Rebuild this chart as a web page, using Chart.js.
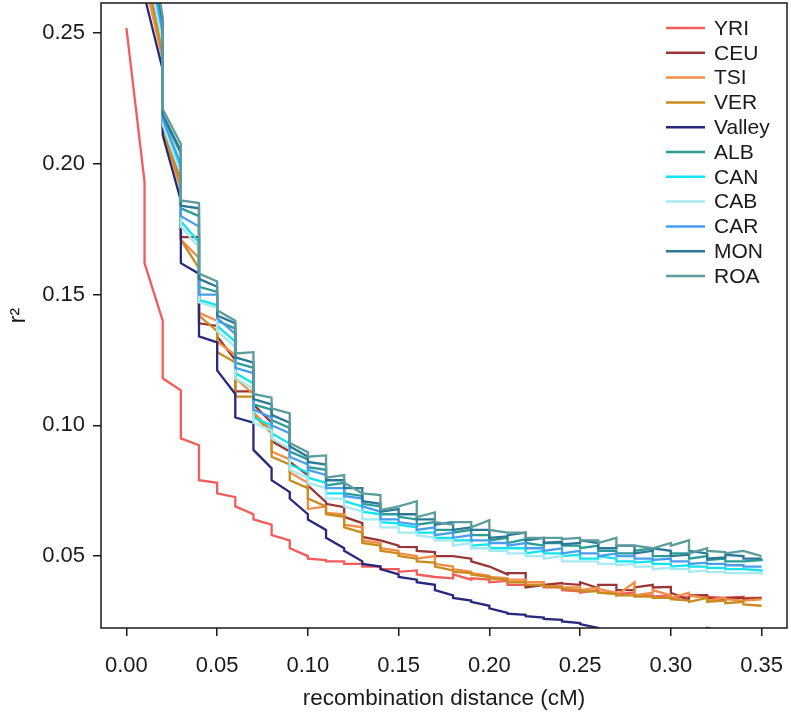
<!DOCTYPE html>
<html>
<head>
<meta charset="utf-8">
<script src="https://cdn.jsdelivr.net/npm/chart.js@4.4.1/dist/chart.umd.min.js"></script>
<style>
  html, body { margin: 0; padding: 0; background: #ffffff; }
  #wrap { width: 791px; height: 716px; }
</style>
</head>
<body>
<div id="wrap"><canvas id="c" width="791" height="716"></canvas></div>
<script>
// recombination distance (cM) — each bin position appears twice (arrive / leave)
const xs = [0,
  0.01,0.01, 0.02,0.02, 0.03,0.03, 0.04,0.04, 0.05,0.05, 0.06,0.06, 0.07,0.07,
  0.08,0.08, 0.09,0.09, 0.10,0.10, 0.11,0.11, 0.12,0.12, 0.13,0.13, 0.14,0.14,
  0.15,0.15, 0.16,0.16, 0.17,0.17, 0.18,0.18, 0.19,0.19, 0.20,0.20, 0.21,0.21,
  0.22,0.22, 0.23,0.23, 0.24,0.24, 0.25,0.25, 0.26,0.26, 0.27,0.27, 0.28,0.28,
  0.29,0.29, 0.30,0.30, 0.31,0.31, 0.32,0.32, 0.33,0.33, 0.34,0.34, 0.35,0.35];

const seriesNames = ["YRI","CEU","TSI","VER","Valley","ALB","CAN","CAB","CAR","MON","ROA"];
const seriesColors = ["#F45B5B","#9A3535","#F48D45","#C88C1E","#27287E","#2A9C97","#12E4EE","#A6E9F1","#479EEE","#2C7895","#5C9C9C"];

const YRI = [0.252, 0.193,0.162, 0.140,0.118, 0.1134,0.095, 0.0924,0.079, 0.078,0.074, 0.0725,0.069, 0.066,0.064, 0.062,0.058, 0.056,0.053, 0.050,0.049, 0.0485,0.048, 0.048,0.047, 0.047,0.046, 0.046,0.045, 0.045,0.044, 0.0445,0.043, 0.042,0.042, 0.0415,0.043, 0.041,0.0415, 0.041,0.040, 0.0405,0.039, 0.039,0.0385, 0.039,0.038, 0.038,0.037, 0.0365,0.036, 0.037,0.036, 0.036,0.0355, 0.036,0.035, 0.035,0.0345, 0.035,0.034, 0.0345,0.035, 0.034,0.0345, 0.034,0.034, 0.0345,0.034, 0.034,0.034];
const CEU = [0.40, 0.31,0.28, 0.245,0.215, 0.195,0.172, 0.172,0.139, 0.138,0.134, 0.125,0.113, 0.113,0.108, 0.101,0.094, 0.090,0.086, 0.081,0.077, 0.0706,0.070, 0.0687,0.065, 0.0626,0.0573, 0.056,0.056, 0.054,0.0535, 0.0534,0.052, 0.0515,0.050, 0.050,0.050, 0.049,0.048, 0.046,0.046, 0.043,0.0435, 0.0435,0.038, 0.039,0.039, 0.0397,0.0395, 0.039,0.040, 0.0378,0.039, 0.039,0.037, 0.037,0.038, 0.039,0.038, 0.0382,0.036, 0.0332,0.035, 0.0351,0.034, 0.0332,0.034, 0.034,0.0335, 0.034,0.034];
const TSI = [0.38, 0.30,0.27, 0.24,0.213, 0.19,0.171, 0.164,0.143, 0.140,0.132, 0.127,0.118, 0.112,0.105, 0.098,0.090, 0.087,0.082, 0.078,0.068, 0.069,0.0665, 0.066,0.062, 0.061,0.056, 0.055,0.053, 0.052,0.051, 0.050,0.049, 0.050,0.047, 0.046,0.045, 0.044,0.0435, 0.0425,0.042, 0.0415,0.041, 0.041,0.040, 0.040,0.0385, 0.0385,0.038, 0.038,0.037, 0.038,0.0375, 0.036,0.035, 0.040,0.035, 0.036,0.037, 0.035,0.034, 0.036,0.035, 0.034,0.033, 0.034,0.0335, 0.033,0.033, 0.0335,0.0335];
const VER = [0.39, 0.30,0.275, 0.242,0.214, 0.192,0.171, 0.160,0.142, 0.136,0.128, 0.124,0.111, 0.111,0.104, 0.097,0.088, 0.085,0.079, 0.076,0.072, 0.069,0.066, 0.065,0.061, 0.059,0.055, 0.054,0.052, 0.051,0.050, 0.049,0.048, 0.0475,0.046, 0.0445,0.044, 0.0435,0.043, 0.042,0.0415, 0.041,0.040, 0.040,0.039, 0.039,0.0385, 0.038,0.0375, 0.037,0.0365, 0.0365,0.036, 0.0355,0.035, 0.035,0.0345, 0.0345,0.034, 0.034,0.0335, 0.033,0.0325, 0.034,0.0325, 0.033,0.032, 0.0325,0.0315, 0.031,0.031];
const Valley = [0.40, 0.30,0.264, 0.236,0.211, 0.186,0.162, 0.158,0.134, 0.1317,0.121, 0.112,0.103, 0.101,0.0906, 0.0836,0.079, 0.0745,0.072, 0.066,0.064, 0.060,0.057, 0.053,0.052, 0.048,0.047, 0.046,0.045, 0.043,0.042, 0.041,0.040, 0.039,0.037, 0.035,0.034, 0.033,0.0325, 0.031,0.030, 0.0283,0.028, 0.0275,0.027, 0.0265,0.026, 0.0256,0.025, 0.0244,0.024, 0.0225,0.022, 0.0215,0.0218, 0.0212,0.0215, 0.021,0.0213, 0.0222,0.0215, 0.021,0.021, 0.0212,0.0225, 0.021,0.0208, 0.0205,0.021, 0.0205,0.0205];
const ALB = [0.40, 0.33,0.29, 0.252,0.218, 0.204,0.183, 0.180,0.153, 0.151,0.140, 0.137,0.124, 0.122,0.108, 0.106,0.102, 0.099,0.090, 0.087,0.084, 0.083,0.077, 0.078,0.074, 0.073,0.070, 0.069,0.066, 0.066,0.065, 0.064,0.062, 0.063,0.060, 0.060,0.059, 0.060,0.058, 0.058,0.056, 0.057,0.055, 0.0565,0.055, 0.054,0.055, 0.055,0.054, 0.054,0.053, 0.054,0.052, 0.052,0.051, 0.051,0.052, 0.053,0.050, 0.050,0.051, 0.051,0.049, 0.050,0.0485, 0.049,0.048, 0.048,0.048, 0.0485,0.048];
const CAN = [0.39, 0.32,0.285, 0.248,0.216, 0.198,0.178, 0.170,0.148, 0.146,0.138, 0.132,0.120, 0.116,0.103, 0.100,0.097, 0.093,0.085, 0.082,0.080, 0.078,0.074, 0.074,0.071, 0.069,0.067, 0.066,0.063, 0.0625,0.062, 0.061,0.059, 0.059,0.057, 0.057,0.056, 0.056,0.054, 0.0545,0.053, 0.053,0.053, 0.053,0.051, 0.052,0.051, 0.051,0.050, 0.0505,0.049, 0.049,0.050, 0.049,0.048, 0.048,0.0475, 0.048,0.047, 0.047,0.046, 0.0465,0.046, 0.046,0.0455, 0.0455,0.045, 0.045,0.045, 0.0445,0.045];
const CAB = [0.39, 0.31,0.28, 0.246,0.215, 0.196,0.176, 0.168,0.147, 0.145,0.136, 0.130,0.118, 0.114,0.101, 0.098,0.095, 0.091,0.083, 0.080,0.078, 0.076,0.072, 0.072,0.069, 0.067,0.064, 0.064,0.061, 0.061,0.059, 0.059,0.058, 0.057,0.056, 0.056,0.054, 0.055,0.053, 0.053,0.052, 0.052,0.051, 0.051,0.050, 0.050,0.049, 0.050,0.048, 0.048,0.048, 0.048,0.047, 0.047,0.0465, 0.047,0.046, 0.046,0.045, 0.0455,0.045, 0.045,0.044, 0.0445,0.044, 0.044,0.0435, 0.0435,0.0435, 0.0435,0.043];
const CAR = [0.40, 0.32,0.29, 0.250,0.217, 0.200,0.180, 0.176,0.150, 0.150,0.141, 0.135,0.122, 0.120,0.106, 0.103,0.100, 0.097,0.088, 0.085,0.083, 0.081,0.076, 0.076,0.073, 0.072,0.069, 0.067,0.064, 0.064,0.063, 0.062,0.060, 0.061,0.058, 0.059,0.057, 0.058,0.056, 0.056,0.055, 0.055,0.054, 0.055,0.053, 0.053,0.052, 0.053,0.051, 0.052,0.051, 0.051,0.050, 0.051,0.050, 0.050,0.049, 0.049,0.0485, 0.049,0.048, 0.048,0.047, 0.0475,0.047, 0.047,0.0465, 0.0465,0.046, 0.046,0.046];
const MON = [0.41, 0.33,0.295, 0.254,0.219, 0.205,0.184, 0.183,0.156, 0.153,0.142, 0.139,0.126, 0.124,0.110, 0.108,0.104, 0.101,0.092, 0.088,0.086, 0.085,0.079, 0.079,0.076, 0.076,0.071, 0.070,0.067, 0.068,0.066, 0.066,0.064, 0.064,0.062, 0.063,0.060, 0.061,0.060, 0.060,0.057, 0.0575,0.058, 0.059,0.056, 0.057,0.055, 0.0555,0.0545, 0.055,0.056, 0.055,0.053, 0.053,0.054, 0.054,0.051, 0.052,0.053, 0.052,0.050, 0.0505,0.052, 0.051,0.049, 0.0495,0.0505, 0.050,0.049, 0.049,0.049];
const ROA = [0.42, 0.34,0.30, 0.256,0.221, 0.2076,0.186, 0.185,0.158, 0.155,0.144, 0.140,0.1275, 0.128,0.112, 0.1106,0.1065, 0.1046,0.0932, 0.0897,0.088, 0.0885,0.080, 0.081,0.078, 0.074,0.074, 0.0733,0.0676, 0.069,0.069, 0.071,0.0649, 0.0667,0.063, 0.062,0.063, 0.063,0.061, 0.0637,0.060, 0.059,0.059, 0.059,0.057, 0.057,0.057, 0.057,0.0565, 0.057,0.056, 0.056,0.055, 0.057,0.054, 0.054,0.054, 0.053,0.053, 0.055,0.054, 0.056,0.051, 0.053,0.052, 0.0515,0.051, 0.052,0.052, 0.050,0.050];

const xTicks = [0.00, 0.05, 0.10, 0.15, 0.20, 0.25, 0.30, 0.35];
const yTicks = [0.05, 0.10, 0.15, 0.20, 0.25];
const xRange = [-0.014, 0.364];
const yRange = [0.0225, 0.2615];

const seriesValues = [YRI, CEU, TSI, VER, Valley, ALB, CAN, CAB, CAR, MON, ROA];

const FONT = "'Liberation Sans', Arial, Helvetica, sans-serif";
const INK = '#1a1a1a';

const datasets = seriesNames.map((name, i) => ({
  label: name,
  data: xs.map((x, k) => ({ x: x, y: seriesValues[i][k] })),
  borderColor: seriesColors[i],
  backgroundColor: seriesColors[i],
  borderWidth: 2.3,
  pointRadius: 0,
  pointHoverRadius: 0,
  tension: 0,
  fill: false,
  order: seriesNames.length - i
}));

const framePlugin = {
  id: 'frameAndLegend',
  afterDraw(chart) {
    const { ctx, chartArea: a } = chart;
    ctx.save();
    ctx.strokeStyle = INK;
    ctx.lineWidth = 1.5;
    ctx.strokeRect(a.left, a.top, a.right - a.left, a.bottom - a.top);
    // legend (R style, no box) in the top-right of the plot region
    ctx.font = '21px ' + FONT;
    ctx.textBaseline = 'middle';
    ctx.textAlign = 'left';
    const x0 = a.right - 121, x1 = a.right - 82, tx = a.right - 73;
    const y0 = a.top + 25, step = 24.8;
    seriesNames.forEach((name, i) => {
      const y = y0 + i * step;
      ctx.strokeStyle = seriesColors[i];
      ctx.lineWidth = 2.5;
      ctx.beginPath();
      ctx.moveTo(x0, y);
      ctx.lineTo(x1, y);
      ctx.stroke();
      ctx.fillStyle = INK;
      ctx.fillText(name, tx, y + 1);
    });
    ctx.restore();
  }
};

new Chart(document.getElementById('c'), {
  type: 'line',
  data: { datasets },
  plugins: [framePlugin],
  options: {
    responsive: false,
    animation: false,
    events: [],
    layout: { padding: { top: 3, right: 4, left: 0, bottom: 0 } },
    plugins: { legend: { display: false }, tooltip: { enabled: false } },
    scales: {
      x: {
        type: 'linear',
        min: xRange[0], max: xRange[1],
        afterBuildTicks: (s) => { s.ticks = xTicks.map(v => ({ value: v })); },
        afterFit: (s) => { s.height = 88; s.paddingLeft = 0; s.paddingRight = 0; },
        border: { display: false },
        grid: { drawOnChartArea: false, drawTicks: true, tickLength: 8, color: INK, lineWidth: 1.5 },
        ticks: {
          autoSkip: false, maxRotation: 0, padding: 17, color: INK,
          font: { family: FONT, size: 22 },
          callback: (v) => Number(v).toFixed(2)
        },
        title: {
          display: true, text: 'recombination distance (cM)', color: INK,
          font: { family: FONT, size: 22.5 }, padding: { top: 4, bottom: 4 }
        }
      },
      y: {
        type: 'linear',
        min: yRange[0], max: yRange[1],
        afterBuildTicks: (s) => { s.ticks = yTicks.map(v => ({ value: v })); },
        afterFit: (s) => { s.width = 101; s.paddingTop = 0; s.paddingBottom = 0; },
        border: { display: false },
        grid: { drawOnChartArea: false, drawTicks: true, tickLength: 8, color: INK, lineWidth: 1.5 },
        ticks: {
          autoSkip: false, padding: 8, color: INK,
          font: { family: FONT, size: 22 },
          callback: (v) => Number(v).toFixed(2)
        },
        title: {
          display: true, text: 'r²', color: INK,
          font: { family: FONT, size: 23 }, padding: { top: 5, bottom: 2 }
        }
      }
    }
  }
});
</script>
</body>
</html>
